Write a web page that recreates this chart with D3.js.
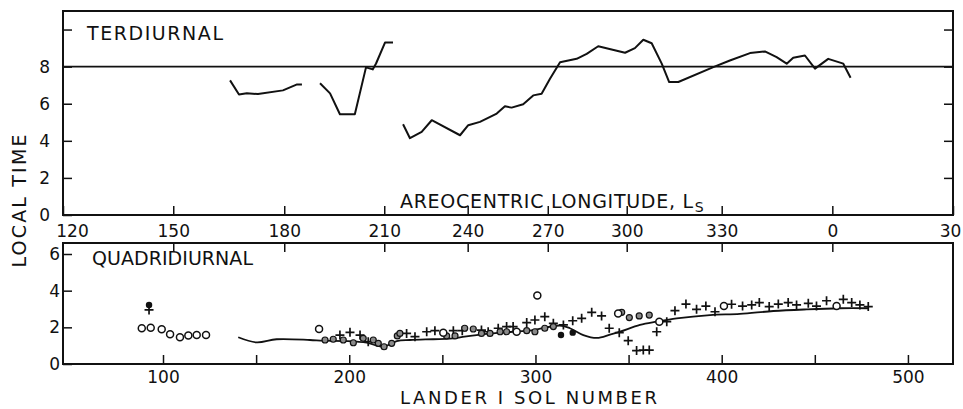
<!DOCTYPE html>
<html>
<head>
<meta charset="utf-8">
<script src="https://cdn.jsdelivr.net/npm/d3@7"></script>
<style>
  body { margin: 0; background: #fff; }
  svg { display: block; }
  text { font-family: "DejaVu Sans", sans-serif; fill: #111; }
</style>
</head>
<body>
<div id="chart"></div>
<script>
const W = 963, H = 409;
const left = 63, right = 953;
const top0 = 11, top1 = 215, bot0 = 243, bot1 = 364;

// --- Data ---
// areocentric longitude ticks, placed at the matching sol number
const lsLabels = ["120", "150", "180", "210", "240", "270", "300", "330", "0", "30"];
const lsSol = [46.3, 105.5, 165.1, 218.8, 263.6, 306.6, 349.0, 400.0, 459.4, 524.2];
const solTicks = [100, 150, 200, 250, 300, 350, 400, 450, 500];

// terdiurnal phase (sol, local time), three pieces
const terd1 = [[136, 7.26], [140.8, 6.5], [145, 6.56], [151, 6.52], [164.4, 6.72], [172, 7.04], [174.6, 7.04]];
const terd2 = [[184.3, 7.1], [189.7, 6.56], [195, 5.43], [203, 5.43], [209, 7.96], [212.6, 7.85],
  [214.4, 8.17], [219.2, 9.3], [223.5, 9.3]];
const terd3 = [[228.9, 4.89], [232.6, 4.14], [238.9, 4.48], [244.3, 5.11], [259.5, 4.30], [263.9, 4.84],
  [270.2, 5.02], [279.2, 5.47], [283.6, 5.86], [287.2, 5.79], [293.4, 5.97], [298.8, 6.45], [303.3, 6.54],
  [307.8, 7.35], [313.2, 8.24], [322.1, 8.42], [327.5, 8.69], [333.7, 9.10], [348.1, 8.75], [353.4, 9.0],
  [357.9, 9.45], [362.4, 9.26], [367.8, 8.16], [371.8, 7.17], [376.7, 7.17], [395.5, 7.97], [404.4, 8.33],
  [415.2, 8.73], [423.2, 8.82], [429.5, 8.51], [434.9, 8.16], [438.4, 8.48], [444.7, 8.60], [450.1, 7.89],
  [457.2, 8.42], [465.3, 8.16], [469.2, 7.40]];

// quadridiurnal smooth curve
const quadCurve = [[140.4, 1.46], [150.3, 1.18], [161, 1.35], [178.9, 1.31], [186, 1.27], [198.6, 1.25],
  [209.4, 1.16], [218.3, 0.94], [225.5, 1.25], [232.6, 1.31], [245.1, 1.35], [254, 1.38], [259.5, 1.45],
  [268.4, 1.58], [281, 1.71], [298.8, 1.85], [313, 2.1], [318.5, 1.95], [325.7, 1.58], [333, 1.42],
  [340, 1.6], [345.4, 1.76], [356.1, 2.13], [365.1, 2.31], [375.8, 2.49], [393.7, 2.67], [409.8, 2.73],
  [427.7, 2.89], [445.6, 2.98], [463.5, 3.04], [478.7, 3.04]];

const quadOpen = [[88.6, 1.95], [93.4, 1.98], [99.3, 1.89], [103.8, 1.62], [109.1, 1.46], [113.6, 1.55],
  [118.1, 1.58], [123.1, 1.58], [183.8, 1.91], [250.5, 1.71], [289.9, 1.76], [301, 3.73], [344.4, 2.76],
  [366.5, 2.31], [401.2, 3.16], [461.7, 3.16]];
const quadDotted = [[187, 1.31], [191.4, 1.35], [196.8, 1.31], [202.2, 1.16], [207.5, 1.40], [212.9, 1.31],
  [215.6, 1.13], [218.7, 0.94], [222.8, 1.13], [225.8, 1.53], [227.2, 1.67], [252.3, 1.53], [256.8, 1.53],
  [262, 1.95], [266.6, 1.91], [271, 1.67], [275.6, 1.67], [281, 1.76], [284.5, 1.76], [295.3, 1.82],
  [299.7, 1.76], [305, 1.95], [309.6, 2.04], [346.3, 2.82], [350.4, 2.53], [355.7, 2.62], [361.1, 2.67]];
const quadFilled = [[92.5, 3.22], [313.7, 1.58], [320, 1.71]];
const quadPlus = [[92.5, 2.95], [195, 1.58], [200.4, 1.73], [205.8, 1.58], [210.2, 1.22], [230.8, 1.67],
  [235.3, 1.49], [241.6, 1.76], [246, 1.82], [255.9, 1.82], [260.7, 1.82], [271, 1.85], [274.6, 1.76],
  [280, 1.95], [284.5, 2.04], [288, 2.04], [295.3, 2.26], [299.7, 2.40], [305, 2.58], [309.6, 2.22],
  [315, 2.13], [320, 2.36], [324.8, 2.49], [330.2, 2.82], [335.5, 2.62], [339.6, 1.95], [345, 1.71],
  [349.8, 1.27], [354.3, 0.73], [357.9, 0.76], [361.1, 0.76], [365.1, 1.76], [370.5, 2.31], [374.9, 2.91],
  [380.8, 3.27], [386.5, 2.98], [391.5, 3.16], [396.4, 2.85], [405.3, 3.26], [411.2, 3.16], [416.1, 3.22],
  [420.2, 3.35], [425.5, 3.13], [430.4, 3.27], [435.7, 3.35], [440.2, 3.22], [446.5, 3.31], [450.9, 3.16],
  [456.3, 3.45], [465.3, 3.53], [469.8, 3.35], [474.2, 3.22], [478.7, 3.13]];

// --- Scales ---
const x = d3.scaleLinear().domain([46.3, 524.2]).range([left, right]);
const yT = d3.scaleLinear().domain([0, 11]).range([top1, top0]);
const yB = d3.scaleLinear().domain([0, 6.6]).range([bot1, bot0]);

const svg = d3.select("#chart").append("svg").attr("width", W).attr("height", H);

// --- Axes (ticks only, frames drawn separately) ---
function style(g) {
  g.select(".domain").remove();
  g.selectAll("line").attr("stroke", "#111").attr("stroke-width", 1.5);
  g.selectAll("text").attr("font-size", 17).attr("fill", "#111");
}

svg.append("g").attr("transform", `translate(${left},0)`)
  .call(d3.axisLeft(yT).tickValues([0, 2, 4, 6, 8, 10]).tickSize(-9).tickPadding(13)
    .tickFormat(d => d === 10 ? "" : d))
  .call(style);
svg.append("g").attr("transform", `translate(${right},0)`)
  .call(d3.axisRight(yT).tickValues([2, 4, 6, 8, 10]).tickSize(-9).tickFormat(""))
  .call(style);

const lsAxis = svg.append("g").attr("transform", `translate(0,${top1})`)
  .call(d3.axisBottom(x).tickValues(lsSol).tickSize(-9).tickPadding(10)
    .tickFormat((d, i) => lsLabels[i]))
  .call(style);
lsAxis.selectAll(".tick text").attr("x", (d, i) => i === 0 ? 9 : i === lsSol.length - 1 ? -3 : 0);

svg.append("g").attr("transform", `translate(0,${bot0})`)
  .call(d3.axisTop(x).tickValues(lsSol.slice(1, -1)).tickSize(-9).tickFormat(""))
  .call(style);

svg.append("g").attr("transform", `translate(${left},0)`)
  .call(d3.axisLeft(yB).tickValues([0, 2, 4, 6]).tickSize(-9).tickPadding(3).tickFormat(d => d))
  .call(style);

svg.append("g").attr("transform", `translate(0,${bot1})`)
  .call(d3.axisBottom(x).tickValues(solTicks).tickSize(-9).tickPadding(7)
    .tickFormat(d => d % 100 === 0 ? d : ""))
  .call(style);

// --- Frames ---
svg.append("rect").attr("x", left).attr("y", top0).attr("width", right - left).attr("height", top1 - top0)
  .attr("fill", "none").attr("stroke", "#111").attr("stroke-width", 2);
svg.append("rect").attr("x", left).attr("y", bot0).attr("width", right - left).attr("height", bot1 - bot0)
  .attr("fill", "none").attr("stroke", "#111").attr("stroke-width", 2);

// 8 o'clock reference line
svg.append("line").attr("x1", left).attr("x2", right).attr("y1", yT(8)).attr("y2", yT(8))
  .attr("stroke", "#111").attr("stroke-width", 1.6);

// --- Terdiurnal lines ---
const lineT = d3.line().x(d => x(d[0])).y(d => yT(d[1]));
svg.selectAll("path.terd").data([terd1, terd2, terd3]).join("path").attr("class", "terd")
  .attr("d", lineT).attr("fill", "none").attr("stroke", "#111").attr("stroke-width", 2)
  .attr("stroke-linejoin", "round");

// --- Quadridiurnal ---
const lineB = d3.line().x(d => x(d[0])).y(d => yB(d[1])).curve(d3.curveCatmullRom);
svg.append("path").datum(quadCurve).attr("d", lineB)
  .attr("fill", "none").attr("stroke", "#111").attr("stroke-width", 1.8);

svg.append("g").selectAll("path").data(quadPlus).join("path")
  .attr("d", d => `M${x(d[0]) - 4.5},${yB(d[1])}h9M${x(d[0])},${yB(d[1]) - 4.5}v9`)
  .attr("stroke", "#111").attr("stroke-width", 1.7).attr("fill", "none");

svg.append("g").selectAll("circle").data(quadDotted).join("circle")
  .attr("cx", d => x(d[0])).attr("cy", d => yB(d[1])).attr("r", 3)
  .attr("fill", "#8a8a8a").attr("stroke", "#111").attr("stroke-width", 1.2);

svg.append("g").selectAll("circle").data(quadOpen).join("circle")
  .attr("cx", d => x(d[0])).attr("cy", d => yB(d[1])).attr("r", 3.5)
  .attr("fill", "#fff").attr("stroke", "#111").attr("stroke-width", 1.5);

svg.append("g").selectAll("circle").data(quadFilled).join("circle")
  .attr("cx", d => x(d[0])).attr("cy", d => yB(d[1])).attr("r", 3.2)
  .attr("fill", "#111");

// --- Labels ---
const label = (t, xx, yy, len, fs = 19) => svg.append("text").attr("x", xx).attr("y", yy)
  .attr("font-size", fs).attr("textLength", len).attr("lengthAdjust", "spacing").text(t);

label("TERDIURNAL", 87, 40, 136);
label("QUADRIDIURNAL", 92, 265, 161);
label("LANDER I SOL NUMBER", 400, 404, 257, 18);

const ls = svg.append("text").attr("x", 400).attr("y", 208).attr("font-size", 19);
ls.append("tspan").attr("textLength", 293).attr("lengthAdjust", "spacing").text("AREOCENTRIC LONGITUDE, L");
ls.append("tspan").attr("font-size", 14).attr("dy", 4).attr("dx", 1).text("S");

svg.append("text").attr("transform", "translate(26,201) rotate(-90)")
  .attr("text-anchor", "middle").attr("font-size", 19)
  .attr("textLength", 133).attr("lengthAdjust", "spacing").text("LOCAL TIME");
</script>
</body>
</html>
